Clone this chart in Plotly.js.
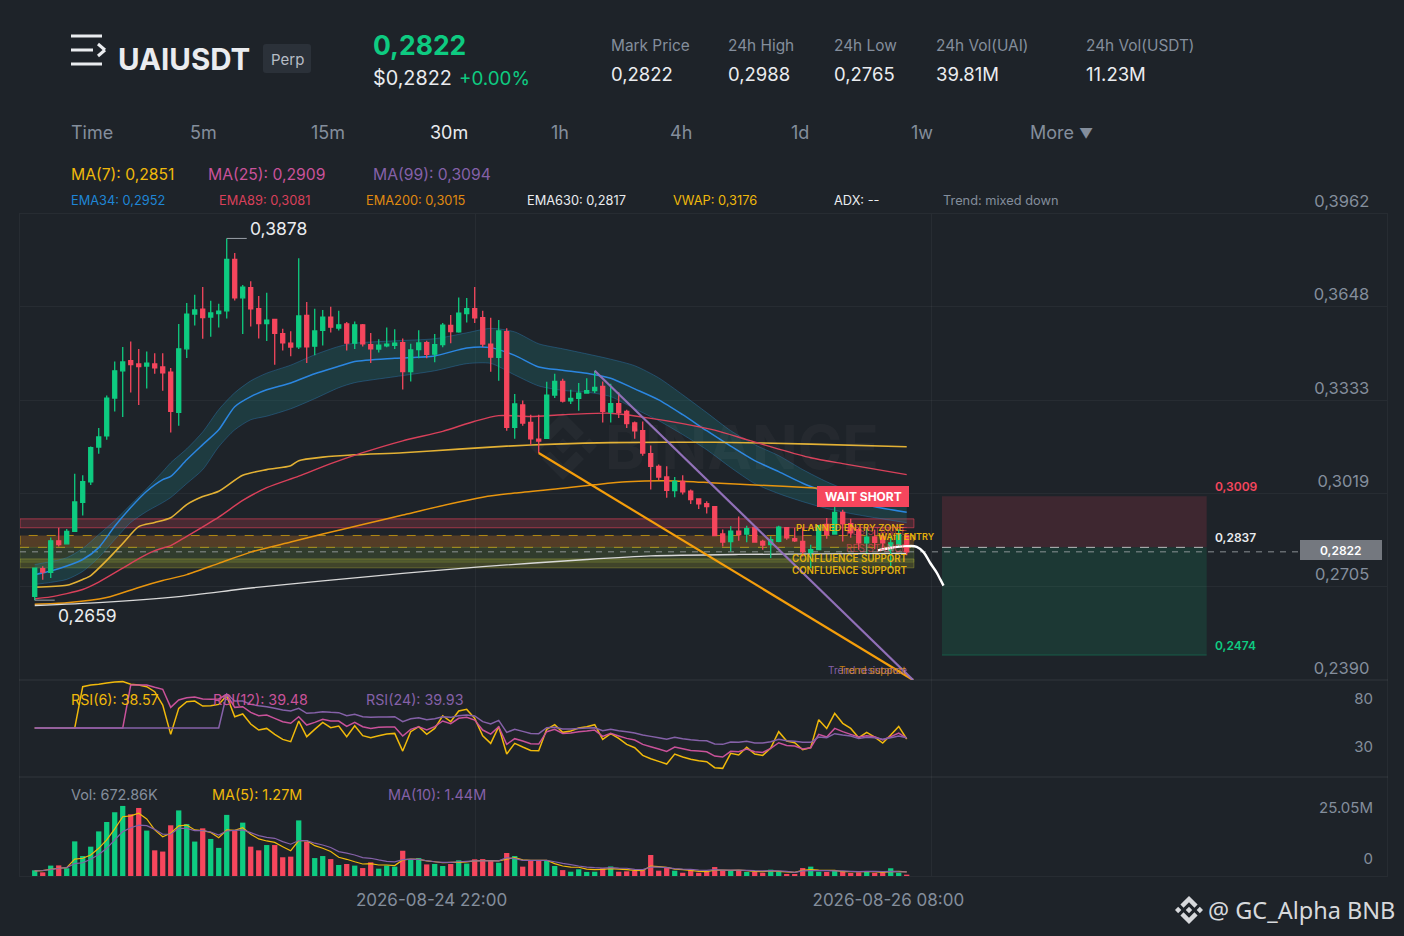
<!DOCTYPE html>
<html>
<head>
<meta charset="utf-8">
<script src="https://cdn.plot.ly/plotly-3.0.1.min.js"></script>
<style>html,body{margin:0;padding:0;background:#1e2329;overflow:hidden}#c{width:1404px;height:936px}</style>
</head>
<body>
<div id="c"></div>
<script>
// ---------- candle data ----------
const candleIdx = Array.from({length:110},(_,i)=>i);
const opens = [.2672,.2765,.2753,.2859,.2849,.2891,.2989,.3058,.3175,.3213,
.3340,.3432,.3466,.3455,.3448,.3455,.3445,.3427,.3292,.3506,
.3623,.3640,.3613,.3625,.3634,.3807,.3678,.3712,.3641,.3591,
.3605,.3557,.3525,.3513,.3619,.3515,.3568,.3613,.3576,.3590,
.3525,.3587,.3520,.3505,.3516,.3518,.3527,.3429,.3503,.3527,
.3488,.3520,.3585,.3563,.3625,.3641,.3611,.3522,.3477,.3564,
.3241,.3317,.3258,.3202,.3204,.3350,.3396,.3331,.3339,.3357,
.3365,.3379,.3293,.3321,.3295,.3256,.3230,.3153,.3110,.3074,
.3028,.3059,.3026,.3000,.2984,.2974,.2882,.2856,.2892,.2882,
.2904,.2857,.2846,.2857,.2903,.2866,.2857,.2820,.2829,.2914,
.2882,.2955,.2917,.2897,.2852,.2872,.2874,.2827,.2846,.2877];
const highs = [.2769,.2773,.2870,.2903,.2899,.3085,.3080,.3177,.3239,.3349,
.3463,.3512,.3531,.3505,.3497,.3491,.3491,.3441,.3590,.3660,
.3688,.3714,.3668,.3658,.3878,.3829,.3721,.3734,.3684,.3695,
.3607,.3574,.3565,.3811,.3664,.3641,.3637,.3648,.3634,.3596,
.3598,.3590,.3559,.3538,.3578,.3572,.3541,.3523,.3569,.3533,
.3556,.3593,.3620,.3679,.3677,.3714,.3634,.3611,.3603,.3575,
.3354,.3332,.3284,.3284,.3395,.3422,.3405,.3368,.3391,.3407,
.3432,.3396,.3388,.3360,.3301,.3261,.3261,.3180,.3116,.3110,
.3074,.3080,.3032,.3001,.2992,.2975,.2897,.2908,.2941,.2910,
.2905,.2863,.2874,.2910,.2904,.2903,.2905,.2846,.2911,.2936,
.2976,.2964,.2933,.2903,.2903,.2897,.2880,.2874,.2897,.2884];
const lows = [.2659,.2728,.2734,.2840,.2849,.2889,.2944,.3047,.3152,.3200,
.3295,.3276,.3359,.3317,.3372,.3422,.3365,.3224,.3247,.3475,
.3585,.3540,.3547,.3578,.3608,.3669,.3556,.3581,.3541,.3532,
.3452,.3500,.3481,.3505,.3458,.3484,.3517,.3561,.3568,.3500,
.3505,.3514,.3458,.3494,.3511,.3505,.3369,.3396,.3474,.3474,
.3461,.3511,.3525,.3560,.3595,.3593,.3512,.3429,.3398,.3230,
.3203,.3247,.3182,.3155,.3204,.3340,.3325,.3320,.3297,.3355,
.3357,.3258,.3258,.3273,.3239,.3203,.3146,.3032,.3063,.3004,
.3006,.3015,.2983,.2966,.2951,.2876,.2840,.2823,.2859,.2854,
.2854,.2829,.2801,.2854,.2863,.2855,.2806,.2767,.2827,.2866,
.2880,.2857,.2869,.2829,.2818,.2831,.2835,.2767,.2840,.2810];
const closes = [.2767,.2754,.2859,.2846,.2891,.2990,.3058,.3173,.3209,.3340,
.3432,.3462,.3453,.3446,.3458,.3442,.3425,.3295,.3506,.3623,
.3637,.3611,.3627,.3633,.3807,.3678,.3714,.3641,.3591,.3603,
.3558,.3526,.3512,.3617,.3513,.3566,.3613,.3579,.3587,.3525,
.3587,.3523,.3506,.3518,.3522,.3525,.3429,.3502,.3526,.3487,
.3520,.3586,.3564,.3626,.3641,.3610,.3522,.3478,.3566,.3241,
.3320,.3256,.3203,.3195,.3350,.3396,.3330,.3339,.3357,.3365,
.3376,.3295,.3321,.3292,.3254,.3230,.3155,.3110,.3074,.3029,
.3059,.3024,.2998,.2984,.2974,.2877,.2855,.2892,.2880,.2900,
.2855,.2845,.2863,.2905,.2869,.2859,.2823,.2829,.2910,.2880,
.2955,.2916,.2886,.2852,.2871,.2854,.2852,.2852,.2880,.2822];

// ---------- EMA34 + band ----------
const bandIdx = [0,2,4,6,8,10,12,14,16,17,19,21,23,25,27,29,32,35,38,40,45,50,54,57,60,63,66,69,72,75,78,81,84,87,90,93,96,99,102,105,109];
const ema34 = [.2745,.2757,.2774,.2796,.2836,.2908,.2971,.3026,.3065,.3076,.3132,.3183,.3233,.3311,.3345,.3368,.3391,.3422,.3447,.3463,.3474,.3482,.3509,.3510,.3484,.3445,.3434,.3424,.3407,.3371,.3334,.3284,.3230,.3178,.3129,.3092,.3053,.3022,.2994,.2974,.2955];
const bandUpper = [.2779,.2789,.2802,.2833,.2880,.2927,.2981,.3035,.3092,.3122,.3169,.3226,.3301,.3358,.3398,.3424,.3451,.3486,.3514,.3525,.3533,.3540,.3560,.3575,.3563,.3523,.3506,.3489,.3471,.3449,.3408,.3351,.3291,.3230,.3183,.3146,.3099,.3058,.3025,.2998,.2974];
const bandLower = [.2712,.2719,.2729,.2756,.2803,.2863,.2921,.2958,.2988,.3005,.3052,.3099,.3176,.3233,.3267,.3279,.3304,.3338,.3375,.3392,.3412,.3432,.3456,.3457,.3418,.3381,.3366,.3360,.3345,.3304,.3264,.3217,.3166,.3106,.3052,.3018,.2991,.2968,.2951,.2937,.2920];

// ---------- other overlays ----------
const vwapIdx = [0,4,6,7,9,11,13,15,17,19,21,23,26,29,32,33,36,40,46,53,59,65,72,85,97,109];
const vwap = [.2703,.2709,.2729,.2742,.2793,.2850,.2907,.2921,.2937,.2981,.3008,.3026,.3080,.3099,.3112,.3129,.3141,.3149,.3156,.3168,.3178,.3185,.3190,.3191,.3185,.3176];
const ema89Idx = [0,2,6,8,11,13,15,17,19,23,26,29,33,37,41,46,51,55,58,62,66,72,76,81,85,89,93,97,101,109];
const ema89 = [.2664,.2670,.2695,.2720,.2767,.2799,.2826,.2843,.2874,.2939,.2995,.3038,.3077,.3119,.3156,.3196,.3228,.3262,.3281,.3278,.3284,.3289,.3276,.3254,.3232,.3200,.3168,.3139,.3119,.3082];
const ema200Idx = [0,4,9,13,16,19,23,27,32,36,41,46,52,56,60,66,70,74,80,85,90,97,103,109];
const ema200 = [.2645,.2650,.2668,.2702,.2725,.2745,.2783,.2821,.2855,.2882,.2914,.2946,.2984,.3006,.3020,.3036,.3048,.3058,.3061,.3054,.3047,.3038,.3027,.3015];
const ema630Idx = [0,8,18,27,36,46,56,69,77,88,98,109];
const ema630 = [.2641,.2651,.2671,.2700,.2724,.2749,.2772,.2796,.2808,.2813,.2815,.2817];
const projIdx = [105.4,106.9,109,110.25,111.1,111.9,112.75,113.2,113.6];
const projVal = [.2827,.2835,.2841,.2839,.2821,.2786,.2752,.2729,.2708];
const trendSupportIdx = [63,109.8];
const trendSupport = [.3155,.2390];
const trendResistIdx = [70,109.8];
const trendResist = [.3432,.2390];

// ---------- RSI ----------
const rsi6 = [50,50,50,50,50,50,93,94.8,95.5,96.9,97.9,98.3,95.5,94.8,93,87.8,73.9,43.4,70.5,77.4,78.1,72.9,73.3,74.6,83.7,61.8,64.6,54.2,47.9,49.6,43.4,38.2,35.8,57.3,41,48.6,55.9,50.3,52.1,41,52.4,42,39.9,42,43.7,44.4,26,46.2,51.4,43.4,49.6,62.8,56.6,67.7,69.4,60.1,42,34,51.4,22.9,34,30.2,26.7,26.4,48.6,53.5,45.5,46.9,50,51.4,53.5,38.2,44.1,39.2,33,29.5,21.5,18,15.3,12.5,22.9,19.8,17.4,16,14.9,8.7,8,23.6,21.9,29.9,22.9,21.5,29.2,46.2,36.4,34.7,27.4,29.5,58.7,49.6,65.3,54.9,49.6,39.9,45.5,40.6,34.4,42.7,51.7,38.57];
const rsi12 = [50,50,50,50,50,50,50,50,50,50,50,50,94.8,94.8,94.8,92.4,90.3,71.5,79.2,81.6,82.3,80.2,79.9,80.2,85.1,71.5,72.2,66.3,62.8,63.5,60.1,56.6,54.9,61.8,53.1,55.9,59,57.3,57.3,51.7,55.9,51.4,49.6,50.7,51,51,41.7,48.6,51.4,47.9,51.4,57.3,54.5,60.1,61.1,58.3,47.9,43.7,51.4,33,38.9,36.4,33.7,33.3,46.2,48.6,44.4,44.8,46.2,46.9,47.9,41.3,44.4,41.7,39.2,37.5,33,30.5,28.1,25.7,30.2,28.5,26.7,26,25.3,20.8,19.8,25.7,25.3,28.1,25.3,24.6,28.8,34.7,31.9,31.2,28.1,29.5,43.4,40.6,49.6,46.2,43.4,40.6,42,41,37.5,41,44.8,39.48];
const rsi24 = [50,50,50,50,50,50,50,50,50,50,50,50,50,50,50,50,50,50,50,50,50,50,50,50,85.4,78.1,78.1,74.6,73.3,72.2,70.5,68.7,67.7,70.5,65.3,66,67,66.3,66,62.8,64.2,61.8,61.1,61.5,61.5,61.8,56.6,59.7,60.8,58.7,59.7,61.8,61.1,62.8,63.5,62.5,56.6,54.2,58,45.5,48.6,46.5,44.4,44.1,50.3,50.7,48.9,48.9,49.6,50,50.3,47.2,48.6,47.2,46.2,44.8,42.7,41.3,39.9,38.2,40.3,38.9,37.8,37.1,36.8,33.3,33,35.4,35.1,36.1,34.4,34.4,35.8,38.2,36.8,36.1,35.1,35.1,40.6,39.9,44.1,42.7,41.7,39.2,40.3,39.9,38.2,39.9,41.7,39.93];

// ---------- Volume (millions) ----------
const volume = [2.8,1.8,5.1,5.2,3.8,17,9.8,14.4,21.9,26.5,31.3,34.4,30.3,33.4,22.3,12.6,12,24.9,32.2,25.5,16.9,23.4,18.2,13.8,30,22.3,26.2,14.4,12.6,15.2,15.2,9.2,9.5,27.3,16.9,8.8,9.8,8.3,5.4,5.9,5.1,3.9,6.7,3.6,5.1,4.6,12.4,8.2,8.8,5.7,5.9,4.9,5.9,7.7,6.1,8.2,8.3,7.4,6.5,11.3,9.8,4.6,7.5,7.5,7.5,4.9,2.9,2.1,3.3,2,2.1,3.8,4.7,2.1,2.3,2.6,2.9,10.3,2.6,4.1,2.6,1.6,2.9,1.6,2.1,4.4,2.8,2.6,2.8,2,2,1.6,3.1,2.1,1,1,3.9,4.6,2.1,2,2.5,2.5,1.5,1.8,2.1,1.6,1.8,3.8,1.6,0.67];
const volMa5 = [2.5,2.6,3.3,3.8,4.1,8.3,8.7,10.3,13.6,17.7,23.1,29.1,29.5,30.8,28,22.6,19.3,21,24.6,25,22.6,22.3,21.4,18.8,22.6,22.4,23.7,20.5,18.2,17.2,16.5,14.4,12.4,17.4,17.4,14.9,13.6,12,9.2,8.2,7,5.9,6.1,5.4,5.4,5.1,7.9,8.3,8.2,7.4,7,6.5,6.7,6.7,6.9,7.4,7.5,7.5,7.4,8.3,9,7.9,7.7,7.7,7.7,6.1,4.9,4.4,4.3,3.4,3.1,3.3,3.6,3.4,3.1,2.8,2.6,4.9,4.6,4.3,3.4,3.1,2.8,2.3,2.1,2.9,2.9,2.8,2.9,2.6,2.3,2.1,2.5,2.3,2,1.8,2.8,3.1,2.9,2.8,2.8,2.1,2.1,2.1,2.1,2.1,1.8,2.1,2.3,2];
const volMa10 = [2.5,2.7,3.1,3.8,4.1,6.1,6.5,8.2,10.6,13.6,17.7,21.8,23.7,25,24.7,22.9,20.5,20.5,23.4,23.4,22.3,22.3,21.6,20.1,22.1,22.4,22.6,21.3,19.8,19,18.5,16.9,15.6,17.4,17.4,16.1,15.2,14,12,11.2,10.3,9,8.7,7.9,7.2,6.9,8,8.3,8.2,7.5,7,6.7,6.7,7,7.2,7.4,7.4,7.4,7.4,9,8.5,7.7,7.7,7.7,7.7,7,6.2,5.6,4.9,4.4,4.1,3.9,4.1,3.9,3.8,3.3,3.1,4.4,4.4,4.1,3.6,3.4,3.3,2.9,2.8,3.1,2.9,2.9,2.9,2.8,2.6,2.5,2.6,2.5,2.3,1.8,2.5,2.6,2.6,2.6,2.5,2.5,2.3,2.1,2.3,2.3,2.1,2.3,2.1,2];

// ---------- axis labels ----------
const priceTicks = [.3962,.3648,.3333,.3019,.2705,.2390];
const rsiTicks = [80,30];
const volTicks = [0,25.05];
const volTickText = ['0','25.05M'];
const gridIdx = [55.04,112.16];
const timeTicks = [49.6,106.7];
const timeTickText = ['2026-08-24 22:00','2026-08-26 08:00'];
const intervals = [['Time',71],['5m',190],['15m',311],['30m',430],['1h',551],['4h',670],['1d',791],['1w',911],['More <span style="font-size:14px">▼</span>',1030]];

// ---------- colours ----------
const UP='#0ecb81', DOWN='#f6465d', GOLD='#f0b90b', PINK='#c9529a', PURPLE='#8561a8', GREY='#848e9c', LIGHT='#eaecef', BG='#1e2329', GRID='rgba(255,255,255,0.045)';
const FONT='Inter, "Noto Sans", sans-serif';

const W=1404,H=936;
const px=x=>x/W, py=y=>1-y/H;
const annotations=[];
function T(text,x,y,color,size,o){o=o||{};annotations.push({text,x:px(x),y:py(y),xref:'paper',yref:'paper',xanchor:o.a||'left',yanchor:'middle',showarrow:false,borderpad:0,borderwidth:0,
  font:{family:o.f||FONT,color,size,weight:o.w||400},align:o.a||'left',opacity:o.op==null?1:o.op});}

// header
T('UAIUSDT',118,59,LIGHT,29.5,{w:700});
T('Perp',287,60,'#b7bdc6',15,{a:'center'});
T('0,2822',373,45,UP,26.5,{w:700});
T('$0,2822',373,78,LIGHT,19.8);
T('+0.00%',459,78,UP,18.8);
[['Mark Price','0,2822',611],['24h High','0,2988',728],['24h Low','0,2765',834],['24h Vol(UAI)','39.81M',936],['24h Vol(USDT)','11.23M',1086]].forEach(s=>{
  T(s[0],s[2],45,GREY,15.4); T(s[1],s[2],74,LIGHT,18.5);
});
intervals.forEach(t=>T(t[0],t[1],133,t[0]==='30m'?LIGHT:GREY,18));
T('MA(7): 0,2851',71,174,GOLD,15.7);
T('MA(25): 0,2909',208,174,PINK,15.7);
T('MA(99): 0,3094',373,174,PURPLE,15.7);
T('EMA34: 0,2952',71,200,'#1f86d6',12.8);
T('EMA89: 0,3081',219,200,'#d9405a',12.8);
T('EMA200: 0,3015',366,200,'#e08a10',12.8);
T('EMA630: 0,2817',527,200,LIGHT,12.8);
T('VWAP: 0,3176',673,200,GOLD,12.8);
T('ADX: --',834,200,LIGHT,12.8);
T('Trend: mixed down',943,200,GREY,12.8);
// chart labels
T('BINANCE',742,447,'rgba(255,255,255,0.03)',60,{a:'center',w:700});
T('0,3878',250,228,LIGHT,17.5);
T('0,2659',58,615,LIGHT,17.5);
T('WAIT SHORT',863,496,'#ffffff',12,{a:'center',w:700});
T('PLANNED ENTRY ZONE',905,527,GOLD,9.5,{a:'right',w:600,op:.92});
T('RESISTANCE',907,531,DOWN,10,{a:'right',op:.6});
T('WAIT ENTRY',935,536,GOLD,9,{a:'right',w:600,op:.95});
T('RESISTANCE',907,548,DOWN,10,{a:'right',op:.6});
T('CONFLUENCE SUPPORT',907,558,GOLD,9.7,{a:'right',w:600,op:.92});
T('CONFLUENCE SUPPORT',907,570,GOLD,9.7,{a:'right',w:600,op:.92});
T('Trend resistance',907,670,PURPLE,10,{a:'right'});
T('Trend support',907,670,'#e8950e',10,{a:'right',op:.8});
T('0,3009',1215,486,DOWN,12,{w:600});
T('0,2837',1215,537,LIGHT,12,{w:600});
T('0,2474',1215,645,UP,12,{w:600});
T('0,2822',1341,550,'#ffffff',12,{a:'center',w:600});
T('RSI(6): 38.57',71,699,GOLD,14.3);
T('RSI(12): 39.48',213,699,PINK,14.3);
T('RSI(24): 39.93',366,699,PURPLE,14.3);
T('Vol: 672.86K',71,794,GREY,14.4);
T('MA(5): 1.27M',212,794,GOLD,14.4);
T('MA(10): 1.44M',388,794,PURPLE,14.4);
T('@ GC_Alpha BNB',1208,910,'#d7d9dc',23.5,{f:'"Noto Sans", "Open Sans", sans-serif'});

// ---------- shapes ----------
const shapes=[];
const X0=-1.84, XZ=109.9, XR0=113.41, XR1=146.5, XEND=168.4;
function zone(y0,y1,fill,line,dash){shapes.push({type:'rect',xref:'x',yref:'y',x0:X0,x1:XZ,y0,y1,fillcolor:fill,line:{color:line,width:1,dash:dash||'solid'},layer:'below'});}
zone(.2903,.2933,'rgba(246,70,93,0.20)','rgba(246,70,93,0.55)');
zone(.2837,.2877,'rgba(240,140,30,0.26)','rgba(240,185,11,0.65)','dash');
zone(.2787,.2837,'rgba(150,190,70,0.16)','rgba(170,190,60,0.20)');
zone(.2768,.2798,'rgba(200,200,50,0.20)','rgba(190,190,60,0.35)');
// risk / reward box
shapes.push({type:'rect',xref:'x',yref:'y',x0:XR0,x1:XR1,y0:.2837,y1:.3009,fillcolor:'rgba(246,70,93,0.15)',line:{width:0},layer:'below'});
shapes.push({type:'rect',xref:'x',yref:'y',x0:XR0,x1:XR1,y0:.2474,y1:.2837,fillcolor:'rgba(14,203,129,0.13)',line:{width:0},layer:'below'});
shapes.push({type:'line',xref:'x',yref:'y',x0:XR0,x1:XR1,y0:.2474,y1:.2474,line:{color:'rgba(14,203,129,0.3)',width:1}});
shapes.push({type:'line',xref:'x',yref:'y',x0:XR0,x1:XR1,y0:.2837,y1:.2837,line:{color:'rgba(235,235,235,0.75)',width:1,dash:'dash'}});
// last price
shapes.push({type:'line',xref:'x',yref:'y',x0:X0,x1:XEND,y0:.2822,y1:.2822,line:{color:'rgba(160,165,170,0.55)',width:1.5,dash:'6px 6px'},layer:'below'});
shapes.push({type:'rect',xref:'paper',yref:'paper',x0:px(1300),x1:px(1382),y0:py(560),y1:py(540),fillcolor:'#74787f',line:{width:0}});
// hi / lo leaders
shapes.push({type:'line',xref:'x',yref:'y',x0:24,x1:26.5,y0:.3878,y1:.3878,line:{color:'#9aa0a8',width:1}});
shapes.push({type:'line',xref:'x',yref:'y',x0:0,x1:2.5,y0:.2659,y1:.2659,line:{color:'#9aa0a8',width:1}});
// WAIT SHORT tag
shapes.push({type:'rect',xref:'paper',yref:'paper',x0:px(817),x1:px(909),y0:py(507),y1:py(486),fillcolor:DOWN,line:{width:0}});
// Perp badge
shapes.push({type:'path',xref:'paper',yref:'paper',path:rrect(263,44,311,73,3),fillcolor:'#2b3139',line:{width:0}});
function rrect(a,b,c,d,r){return `M${px(a+r)} ${py(b)}L${px(c-r)} ${py(b)}Q${px(c)} ${py(b)} ${px(c)} ${py(b+r)}L${px(c)} ${py(d-r)}Q${px(c)} ${py(d)} ${px(c-r)} ${py(d)}L${px(a+r)} ${py(d)}Q${px(a)} ${py(d)} ${px(a)} ${py(d-r)}L${px(a)} ${py(b+r)}Q${px(a)} ${py(b)} ${px(a+r)} ${py(b)}Z`;}
// menu icon
[[71,36,102,36],[71,50,93,50],[71,64,102,64],[98,44,105,50],[105,50,98,56]].forEach(l=>shapes.push({type:'line',xref:'paper',yref:'paper',x0:px(l[0]),y0:py(l[1]),x1:px(l[2]),y1:py(l[3]),line:{color:LIGHT,width:3}}));
// Binance mark
const LOGO=[[[38.73,53.2],[63.31,28.62],[87.9,53.21],[102.2,38.91],[63.31,0],[24.42,38.9]],[[0,63.31],[14.3,49.01],[28.6,63.31],[14.3,77.61]],[[38.73,73.41],[63.31,98],[87.9,73.4],[102.2,87.7],[63.31,126.61],[24.42,87.7]],[[98.01,63.31],[112.31,49.01],[126.61,63.31],[112.31,77.61]],[[63.31,48.8],[77.82,63.31],[63.31,77.82],[48.8,63.31]]];
function logo(cx,cy,s,fill){LOGO.forEach(p=>{const d=p.map((q,i)=>(i?'L':'M')+px(cx+(q[0]-63.3)*s/126.6)+' '+py(cy+(q[1]-63.3)*s/126.6)).join('')+'Z';shapes.push({type:'path',xref:'paper',yref:'paper',path:d,fillcolor:fill,line:{width:0},layer:'below'});});}
logo(563,446,68,'rgba(255,255,255,0.035)');
logo(1189,910,28,'#d7d9dc');

// ---------- traces ----------
const line=(x,y,color,width,extra)=>Object.assign({type:'scatter',mode:'lines',x,y,line:{color,width,simplify:false},hoverinfo:'skip'},extra||{});
const smooth=(x,y,color,width,extra)=>line(x,y,color,width,Object.assign({line:{color,width,shape:'spline',smoothing:.7}},extra||{}));
const volColors=candleIdx.map(i=>closes[i]>=opens[i]?UP:DOWN);
const traces=[
  smooth(bandIdx,bandUpper,'rgba(45,125,190,0.40)',1),
  smooth(bandIdx,bandLower,'rgba(45,125,190,0.40)',1,{fill:'tonexty',fillcolor:'rgba(30,130,130,0.26)'}),
  smooth(bandIdx,ema34,'#2b86e0',1.5),
  smooth(vwapIdx,vwap,'#e3b134',1.6),
  smooth(ema89Idx,ema89,'#d9405a',1.4),
  smooth(ema200Idx,ema200,'#e8950e',1.5),
  smooth(ema630Idx,ema630,'#d8d8d8',1.3),
  {type:'candlestick',x:candleIdx,open:opens,high:highs,low:lows,close:closes,xaxis:'x4',yaxis:'y4',whiskerwidth:0,
    increasing:{line:{color:UP,width:1.3},fillcolor:UP},decreasing:{line:{color:DOWN,width:1.3},fillcolor:DOWN},hoverinfo:'skip'},
  line(trendSupportIdx,trendSupport,'#f59e0b',2.2,{xaxis:'x4',yaxis:'y4'}),
  line(trendResistIdx,trendResist,'#9170b8',2.2,{xaxis:'x4',yaxis:'y4'}),
  smooth(projIdx,projVal,'#ffffff',2.4,{xaxis:'x4',yaxis:'y4',line:{color:'#ffffff',width:2.4,shape:'spline',smoothing:1}}),
  line(candleIdx,rsi6,GOLD,1.5,{xaxis:'x2',yaxis:'y2'}),
  line(candleIdx,rsi12,PINK,1.5,{xaxis:'x2',yaxis:'y2'}),
  line(candleIdx,rsi24,PURPLE,1.5,{xaxis:'x2',yaxis:'y2'}),
  {type:'bar',x:candleIdx,y:volume,marker:{color:volColors,line:{width:0}},width:.66,xaxis:'x3',yaxis:'y3',hoverinfo:'skip'},
  line(candleIdx,volMa5,GOLD,1.2,{xaxis:'x3',yaxis:'y3'}),
  line(candleIdx,volMa10,PURPLE,1.2,{xaxis:'x3',yaxis:'y3'})
];

const XR=[X0,(1387-34.7)/8];
const xDom=[px(20),px(1387)];
const xBase={range:XR,domain:xDom,showgrid:true,gridcolor:GRID,gridwidth:1,zeroline:false,showline:true,linecolor:GRID,mirror:true,
  tickmode:'array',tickvals:gridIdx,ticks:'',showticklabels:false,fixedrange:true};
const yBase={side:'right',zeroline:false,showline:true,linecolor:GRID,mirror:true,ticks:'',tickmode:'array',fixedrange:true,
  ticklabelposition:'inside',ticklabeloverflow:'allow',tickfont:{family:FONT,color:GREY,size:16.5}};
const smallTick={family:FONT,color:GREY,size:15};

const layout={width:W,height:H,autosize:false,margin:{l:0,r:0,t:0,b:0,pad:0},paper_bgcolor:BG,plot_bgcolor:BG,showlegend:false,separators:',.',
  bargap:.3,boxgap:.5,boxgroupgap:0,dragmode:false,annotations,shapes,font:{family:FONT},
  xaxis:Object.assign({},xBase,{anchor:'y',rangeslider:{visible:false}}),
  xaxis2:Object.assign({},xBase,{anchor:'y2'}),
  xaxis3:Object.assign({},xBase,{anchor:'y3',showgrid:false,tickvals:timeTicks,ticktext:timeTickText,showticklabels:true,tickfont:{family:FONT,color:GREY,size:17},ticklabelstandoff:9,
    minor:{tickmode:'array',tickvals:gridIdx,showgrid:true,gridcolor:GRID,gridwidth:1,ticks:''}}),
  xaxis4:{overlaying:'x',range:XR,anchor:'y4',visible:false,fixedrange:true,rangeslider:{visible:false}},
  yaxis:Object.assign({},yBase,{anchor:'x',domain:[py(680),py(213.5)],range:[.2390,.3962],tickvals:priceTicks,tickformat:'.4f',showgrid:true,gridcolor:GRID,ticklabelshift:-12,ticklabelstandoff:18}),
  yaxis2:Object.assign({},yBase,{anchor:'x2',domain:[py(777),py(680)],range:[-1,100],tickvals:rsiTicks,showgrid:false,ticklabelstandoff:14,tickfont:smallTick}),
  yaxis3:Object.assign({},yBase,{anchor:'x3',domain:[py(876),py(777)],range:[0,48.6],tickvals:volTicks,ticktext:volTickText,showgrid:false,ticklabelshift:-17,ticklabelstandoff:14,tickfont:smallTick}),
  yaxis4:{overlaying:'y',range:[.2390,.3962],anchor:'x4',visible:false,fixedrange:true}
};
Plotly.newPlot('c',traces,layout,{displayModeBar:false,staticPlot:true});
</script>
</body>
</html>
